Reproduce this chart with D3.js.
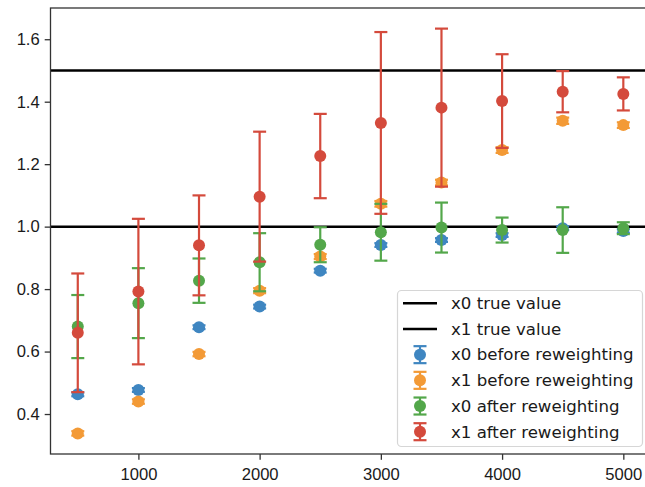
<!DOCTYPE html>
<meta charset="utf-8">
<style>
body { margin: 0; background: #fff; }
svg { display: block; font-family: "DejaVu Sans", sans-serif; }
.tick text { font-size: 16.6px; fill: #1a1a1a; }
</style>
<body>
<script src="https://cdn.jsdelivr.net/npm/d3@7"></script>
<script>

// sample sizes on the x axis
var sizes = [500, 1000, 1500, 2000, 2500, 3000, 3500, 4000, 4500, 5000];

// estimates and their errors
var x0Before    = [0.463, 0.477, 0.678, 0.744, 0.859, 0.941, 0.957, 0.973, 0.995, 0.986];
var x0BeforeErr = [0.006, 0.006, 0.006, 0.006, 0.006, 0.006, 0.006, 0.006, 0.006, 0.006];
var x1Before    = [0.338, 0.440, 0.592, 0.795, 0.904, 1.073, 1.141, 1.245, 1.339, 1.325];
var x1BeforeErr = [0.007, 0.007, 0.007, 0.008, 0.008, 0.009, 0.009, 0.009, 0.010, 0.009];
var x0After     = [0.680, 0.755, 0.827, 0.886, 0.942, 0.982, 0.997, 0.989, 0.989, 0.995];
var x0AfterErr  = [0.101, 0.112, 0.071, 0.093, 0.056, 0.091, 0.080, 0.040, 0.073, 0.019];
var x1After     = [0.660, 0.792, 0.940, 1.096, 1.226, 1.332, 1.381, 1.402, 1.432, 1.425];
var x1AfterErr  = [0.190, 0.233, 0.160, 0.208, 0.135, 0.291, 0.253, 0.150, 0.066, 0.053];

var trueValues = [1.0, 1.5];
var yTicks = [0.4, 0.6, 0.8, 1.0, 1.2, 1.4, 1.6];
var xTicks = [1000, 2000, 3000, 4000, 5000];

var series = [
  {name: "x0 before reweighting", vals: x0Before, errs: x0BeforeErr, color: "#3f86c1"},
  {name: "x1 before reweighting", vals: x1Before, errs: x1BeforeErr, color: "#f39a36"},
  {name: "x0 after reweighting",  vals: x0After,  errs: x0AfterErr,  color: "#53a74a"},
  {name: "x1 after reweighting",  vals: x1After,  errs: x1AfterErr,  color: "#d44a3c"}
];

// figure size and the axes box (right edge falls just outside the picture)
var W = 645, H = 487;
var axL = 50.5, axR = 650.6, axT = 8, axB = 454;

var x = d3.scaleLinear().domain([275, 5225]).range([axL, axR]);
var y = d3.scaleLinear().domain([0.272, 1.700]).range([axB, axT]);

var svg = d3.select("body").append("svg")
    .attr("width", W)
    .attr("height", H);

// axes
var gx = svg.append("g")
    .attr("transform", "translate(0," + axB + ")")
    .call(d3.axisBottom(x).tickValues(xTicks).tickFormat(d3.format("d")).tickSize(5.8).tickPadding(4));
var gy = svg.append("g")
    .attr("transform", "translate(" + axL + ",0)")
    .call(d3.axisLeft(y).tickValues(yTicks).tickFormat(d3.format(".1f")).tickSize(5.8).tickPadding(5));
[gx, gy].forEach(function(g) {
  g.select(".domain").remove();
  g.selectAll(".tick line").attr("stroke", "#333").attr("stroke-width", 1.3);
});
gx.selectAll(".tick text").attr("dy", "0.95em");

// true value lines
svg.selectAll(".truth")
    .data(trueValues)
  .enter().append("line")
    .attr("x1", axL).attr("x2", axR)
    .attr("y1", function(d) { return y(d); })
    .attr("y2", function(d) { return y(d); })
    .attr("stroke", "#000")
    .attr("stroke-width", 2.5);

// error bars + markers
var cap = 6.5, sw = 2.2;
series.forEach(function(s) {
  var g = svg.append("g");
  var pts = sizes.map(function(n, i) { return {n: n, v: s.vals[i], e: s.errs[i]}; });
  g.selectAll(".bar").data(pts).enter().append("line")
      .attr("x1", function(d) { return x(d.n); })
      .attr("x2", function(d) { return x(d.n); })
      .attr("y1", function(d) { return y(d.v - d.e); })
      .attr("y2", function(d) { return y(d.v + d.e); })
      .attr("stroke", s.color).attr("stroke-width", sw);
  [-1, 1].forEach(function(sign) {
    g.selectAll(".cap" + sign).data(pts).enter().append("line")
        .attr("x1", function(d) { return x(d.n) - cap; })
        .attr("x2", function(d) { return x(d.n) + cap; })
        .attr("y1", function(d) { return y(d.v + sign * d.e); })
        .attr("y2", function(d) { return y(d.v + sign * d.e); })
        .attr("stroke", s.color).attr("stroke-width", sw);
  });
  g.selectAll("circle").data(pts).enter().append("circle")
      .attr("cx", function(d) { return x(d.n); })
      .attr("cy", function(d) { return y(d.v); })
      .attr("r", 6)
      .attr("fill", s.color);
});

// spines
svg.append("rect")
    .attr("x", axL).attr("y", axT)
    .attr("width", axR - axL).attr("height", axB - axT)
    .attr("fill", "none").attr("stroke", "#333").attr("stroke-width", 1.3);

// legend
var lg = svg.append("g");
lg.append("rect")
    .attr("x", 397.5).attr("y", 290.5)
    .attr("width", 245).attr("height", 156)
    .attr("rx", 4)
    .attr("fill", "#fff").attr("fill-opacity", 0.8)
    .attr("stroke", "#d6d6d6").attr("stroke-width", 1.2);

var items = [
  {name: "x0 true value", type: "line", color: "#000"},
  {name: "x1 true value", type: "line", color: "#000"}
].concat(series.map(function(s) { return {name: s.name, type: "err", color: s.color}; }));

var rowY = d3.scaleLinear().domain([0, 5]).range([303.3, 431.7]);
items.forEach(function(it, i) {
  var cy = rowY(i);
  if (it.type === "line") {
    lg.append("line")
        .attr("x1", 403).attr("x2", 437)
        .attr("y1", cy).attr("y2", cy)
        .attr("stroke", it.color).attr("stroke-width", 2.5);
  } else {
    lg.append("line")
        .attr("x1", 420).attr("x2", 420)
        .attr("y1", cy - 8.5).attr("y2", cy + 8.5)
        .attr("stroke", it.color).attr("stroke-width", sw);
    [-8.5, 8.5].forEach(function(off) {
      lg.append("line")
          .attr("x1", 420 - cap).attr("x2", 420 + cap)
          .attr("y1", cy + off).attr("y2", cy + off)
          .attr("stroke", it.color).attr("stroke-width", sw);
    });
    lg.append("circle")
        .attr("cx", 420).attr("cy", cy).attr("r", 6)
        .attr("fill", it.color);
  }
  lg.append("text")
      .attr("x", 451).attr("y", cy)
      .attr("dy", "0.35em")
      .attr("font-size", 16.6)
      .attr("fill", "#1a1a1a")
      .text(it.name);
});

</script>
</body>
